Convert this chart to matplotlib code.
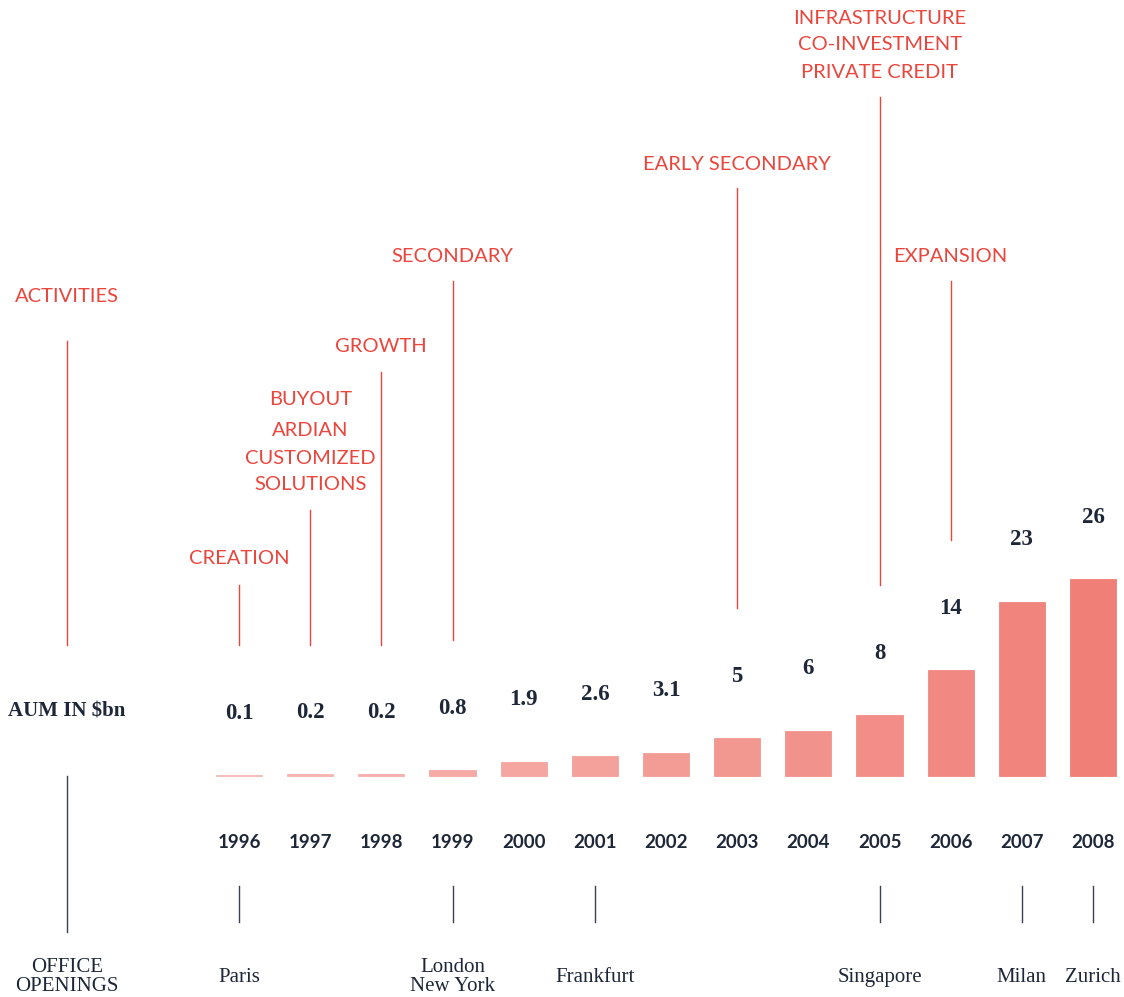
import matplotlib.pyplot as plt
import numpy as np
from matplotlib import transforms
from matplotlib.colors import LinearSegmentedColormap

# data
years = [1996, 1997, 1998, 1999, 2000, 2001, 2002, 2003, 2004, 2005, 2006, 2007, 2008]
aum = [0.1, 0.2, 0.2, 0.8, 1.9, 2.6, 3.1, 5, 6, 8, 14, 23, 26]
aum_labels = ['0.1', '0.2', '0.2', '0.8', '1.9', '2.6', '3.1', '5', '6', '8', '14', '23', '26']

activity_labels = ['CREATION', 'BUYOUT\nARDIAN\nCUSTOMIZED\nSOLUTIONS', 'GROWTH', 'SECONDARY',
                   'EARLY SECONDARY', 'INFRASTRUCTURE\nCO-INVESTMENT\nPRIVATE CREDIT', 'EXPANSION']
activity_years = [1996, 1997, 1998, 1999, 2003, 2005, 2006]

office_cities = ['Paris', 'London\nNew York', 'Frankfurt', 'Singapore', 'Milan', 'Zurich']
office_years = [1996, 1999, 2001, 2005, 2007, 2008]

# layout (pixel rows, from top)
W, H = 1124, 997
act_text_y = [[557], [397, 429, 456, 483], [345], [255], [162], [16, 43, 70], [255]]
act_line = [(585, 645), (510, 645), (372, 645), (281, 640), (188, 608), (97, 585), (281, 540)]

RED = '#e9463e'
NAVY = '#1e2738'
GREY = '#3b4252'
SANS = 'Lato'
SERIF = 'Liberation Serif'


def fy(py):
    return 1 - py / H


fig = plt.figure(figsize=(W / 100, H / 100), dpi=100)
ax = fig.add_axes([0, 0, 1, 1])
step = 71.17
px_per_unit = 7.58
ax.set_xlim(1996 - 239 / step, 1996 + (W - 239) / step)
ax.set_ylim(-(H - 776) / px_per_unit, 776 / px_per_unit)
ax.axis('off')
blend = transforms.blended_transform_factory(ax.transData, fig.transFigure)

cmap = LinearSegmentedColormap.from_list('pinks', ['#f7b9b4', '#f07f78'])
colors = cmap(np.linspace(0, 1, len(years)))
ax.bar(years, aum, width=0.65, color=colors, edgecolor=colors, linewidth=0.6)

for yr, v, lab in zip(years, aum, aum_labels):
    ax.annotate(lab, (yr, v), xytext=(0, 44.5), textcoords='offset points',
                ha='center', va='center', fontsize=16.5, fontweight='bold',
                family=SERIF, color=NAVY)
    ax.text(yr, fy(842), str(yr), transform=blend, ha='center', va='center',
            fontsize=13.5, fontweight='bold', family=SANS, color=NAVY)

# activities
fig.text(67 / W, fy(297), 'ACTIVITIES', ha='center', va='center', fontsize=14.5,
         family=SANS, color=RED)
fig.add_artist(plt.Line2D([67 / W, 67 / W], [fy(341), fy(645)], color=RED, lw=1))
for lab, yr, ty, (l0, l1) in zip(activity_labels, activity_years, act_text_y, act_line):
    for line, y in zip(lab.split('\n'), ty):
        ax.text(yr, fy(y + 2), line, transform=blend, ha='center', va='center',
                fontsize=14.5, family=SANS, color=RED)
    ax.plot([yr, yr], [fy(l0), fy(l1)], transform=blend, color=RED, lw=1)

# AUM row header
fig.text(67 / W, fy(712), 'AUM IN $bn', ha='center', va='center', fontsize=15,
         fontweight='bold', family=SERIF, color=NAVY)

# office openings
fig.add_artist(plt.Line2D([67 / W, 67 / W], [fy(776), fy(932)], color=GREY, lw=1))
fig.text(67 / W, fy(977), 'OFFICE\nOPENINGS', ha='center', va='center', fontsize=15,
         family=SERIF, color=NAVY, linespacing=0.95)
for city, yr in zip(office_cities, office_years):
    ax.plot([yr, yr], [fy(886), fy(922)], transform=blend, color=GREY, lw=1)
    ax.text(yr, fy(977), city, transform=blend, ha='center', va='center',
            fontsize=15, family=SERIF, color=NAVY, linespacing=0.95)

fig.savefig('out.png', dpi=100)
